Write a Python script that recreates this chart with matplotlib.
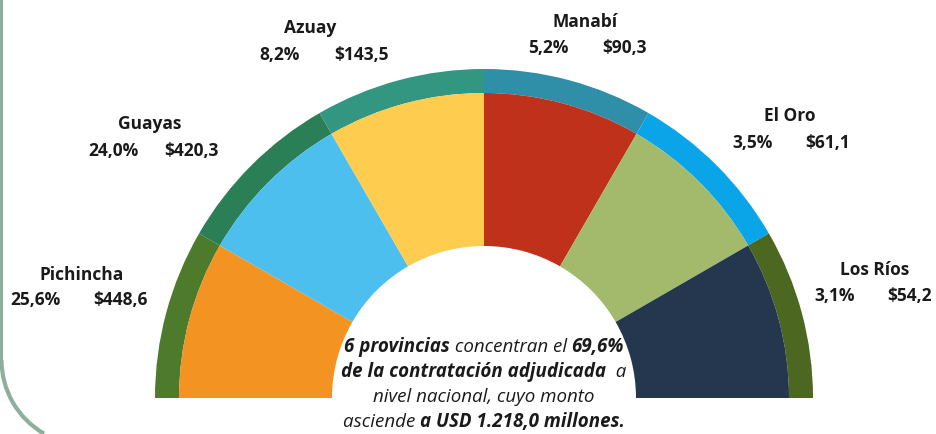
import numpy as np
import matplotlib
matplotlib.use("Agg")
import matplotlib.pyplot as plt
from matplotlib.patches import Arc

plt.rcParams['font.family'] = ['Open Sans', 'DejaVu Sans']

# Data
provincias = ['Pichincha', 'Guayas', 'Azuay', 'Manabí', 'El Oro', 'Los Ríos']
porcentajes = ['25,6%', '24,0%', '8,2%', '5,2%', '3,5%', '3,1%']
montos = ['$448,6', '$420,3', '$143,5', '$90,3', '$61,1', '$54,2']

colores_interior = ['#F39321', '#4DBFEE', '#FECC4E', '#C0311C', '#A3B96B', '#24374F']
colores_anillo = ['#4E7B2B', '#2A7F56', '#339680', '#2F8EA8', '#0AA5E9', '#4C6720']

# label positions in pixels (name x, name y, pct x, amount x, values y)
pos_etiquetas = [
    (82, 275, 35, 120, 300),
    (150, 124, 113, 191, 151),
    (310, 28, 280, 362, 55),
    (585, 22, 548, 625, 48),
    (790, 116, 753, 828, 143),
    (875, 270, 835, 910, 296),
]

W, H = 937, 434
fig = plt.figure(figsize=(W / 100, H / 100), dpi=100)
ax = fig.add_axes([0, 0, 1, 1])

cx, cy = 484, H - 398
r_ext, r_anillo, r_hueco = 329, 305, 152

# semicircle: equal slices plus an invisible half
pesos = list(np.ones(len(provincias))) + [len(provincias)]

ax.pie(pesos, radius=r_ext, center=(cx, cy), startangle=180, counterclock=False,
       colors=colores_anillo + ['none'],
       wedgeprops=dict(width=r_ext - r_anillo, linewidth=0))
ax.pie(pesos, radius=r_anillo, center=(cx, cy), startangle=180, counterclock=False,
       colors=colores_interior + ['none'],
       wedgeprops=dict(width=r_anillo - r_hueco, linewidth=0))

# rounded frame on the left
ax.plot([1.5, 1.5], [H + 10, H - 360], color='#8EAF9C', lw=3, solid_capstyle='butt')
ax.add_patch(Arc((86.5, H - 360), 170, 170, theta1=180, theta2=240,
                 color='#8EAF9C', lw=3))

# labels
fs = 12.5
for i, (nx, ny, px, mx, vy) in enumerate(pos_etiquetas):
    ax.text(nx, H - ny, provincias[i], ha='center', va='center',
            fontsize=fs, fontweight='bold', color='#1a1a1a')
    ax.text(px, H - vy, porcentajes[i], ha='center', va='center',
            fontsize=fs, fontweight='bold', color='#1a1a1a')
    ax.text(mx, H - vy, montos[i], ha='center', va='center',
            fontsize=fs, fontweight='bold', color='#1a1a1a')

# center text with mixed bold / regular italic pieces
lineas = [
    [('6 provincias', True), (' concentran el ', False), ('69,6%', True)],
    [('de la contratación adjudicada', True), ('  a', False)],
    [('nivel nacional, cuyo monto', False)],
    [('asciende ', False), ('a USD 1.218,0 millones.', True)],
]
ys = [347, 372, 397, 422]

ax.set_xlim(0, W)
ax.set_ylim(0, H)
ax.set_aspect('auto')
ax.axis('off')

fig.canvas.draw()
renderer = fig.canvas.get_renderer()
for linea, y in zip(lineas, ys):
    objs = []
    for txt, neg in linea:
        t = ax.text(0, H - y, txt, ha='left', va='center', fontsize=13.5, style='italic',
                    fontweight='bold' if neg else 'normal', color='#1a1a1a')
        objs.append(t)
    anchos = [t.get_window_extent(renderer).width for t in objs]
    x = cx - sum(anchos) / 2
    for t, w in zip(objs, anchos):
        t.set_x(x)
        x += w

fig.savefig('out.png', dpi=100)
